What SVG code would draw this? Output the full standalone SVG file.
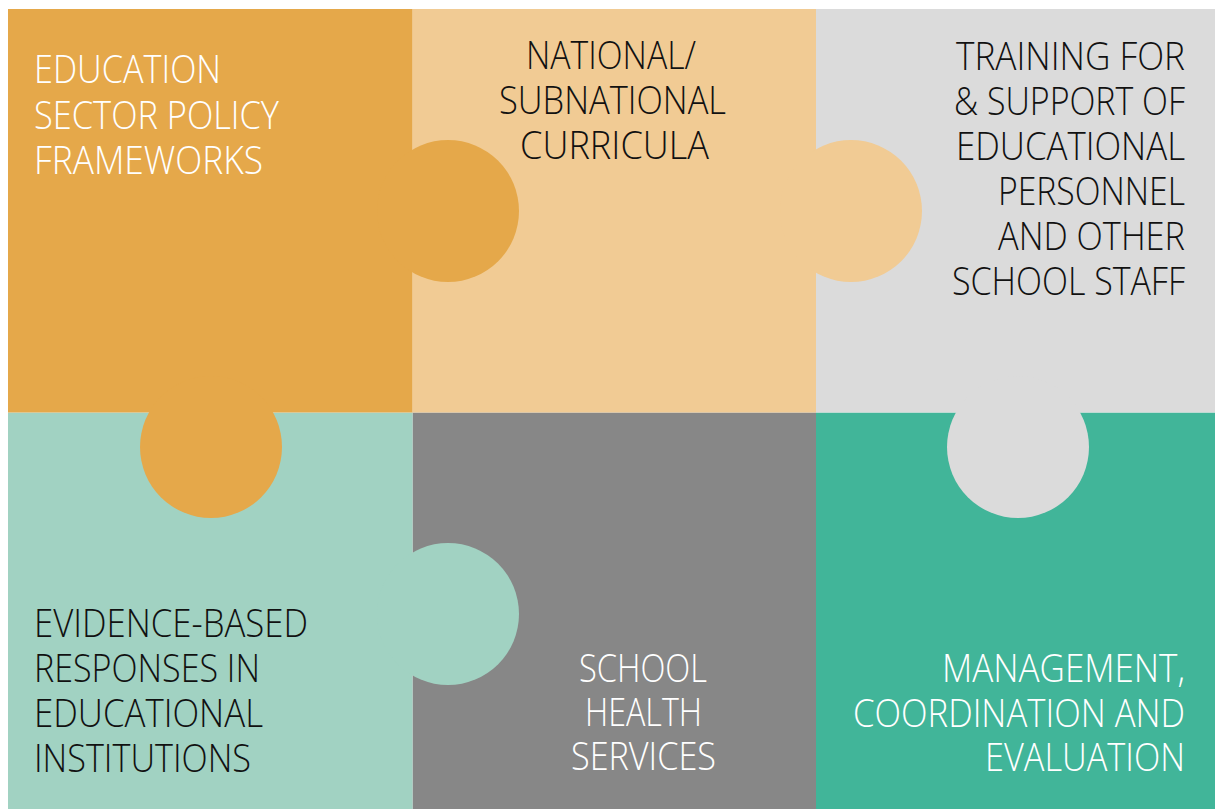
<svg xmlns="http://www.w3.org/2000/svg" width="1215" height="809" viewBox="0 0 1215 809">
  <style>
    .t { font-family: "Open Sans", "Liberation Sans", sans-serif; font-weight: 350; font-size: 39px; }
    .w { fill: #FFFFFF; }
    .k { fill: #111111; }
    .orange { fill: #E5A84A; }
    .peach { fill: #F1CB94; }
    .lgrey { fill: #DBDBDB; }
    .mint { fill: #A1D2C2; }
    .dgrey { fill: #878787; }
    .teal { fill: #41B599; }
  </style>
  <rect width="1215" height="809" fill="#FFFFFF"/>
  <g id="connectors"/>

  <g id="node-management">
    <rect class="teal" x="816" y="412.5" width="399" height="396.5"/>
    <text class="t w" x="942" y="682" textLength="243" lengthAdjust="spacingAndGlyphs">MANAGEMENT,</text>
    <text class="t w" x="853" y="727" textLength="332" lengthAdjust="spacingAndGlyphs">COORDINATION AND</text>
    <text class="t w" x="985" y="771" textLength="200" lengthAdjust="spacingAndGlyphs">EVALUATION</text>
  </g>

  <g id="node-school-health">
    <rect class="dgrey" x="412.5" y="412.5" width="403.5" height="396.5"/>
    <text class="t w" x="579" y="682" textLength="128" lengthAdjust="spacingAndGlyphs">SCHOOL</text>
    <text class="t w" x="585" y="726" textLength="117" lengthAdjust="spacingAndGlyphs">HEALTH</text>
    <text class="t w" x="571" y="770" textLength="145" lengthAdjust="spacingAndGlyphs">SERVICES</text>
  </g>

  <g id="node-training">
    <rect class="lgrey" x="816" y="9" width="399" height="403.5"/>
    <circle class="lgrey" cx="1018" cy="447" r="71"/>
    <text class="t k" x="956" y="70" textLength="229" lengthAdjust="spacingAndGlyphs">TRAINING FOR</text>
    <text class="t k" x="954" y="115" textLength="231" lengthAdjust="spacingAndGlyphs">&amp; SUPPORT OF</text>
    <text class="t k" x="956" y="160" textLength="229" lengthAdjust="spacingAndGlyphs">EDUCATIONAL</text>
    <text class="t k" x="998" y="205" textLength="187" lengthAdjust="spacingAndGlyphs">PERSONNEL</text>
    <text class="t k" x="998" y="250" textLength="187" lengthAdjust="spacingAndGlyphs">AND OTHER</text>
    <text class="t k" x="952" y="295" textLength="233" lengthAdjust="spacingAndGlyphs">SCHOOL STAFF</text>
  </g>

  <g id="node-evidence">
    <rect class="mint" x="8" y="412.5" width="404.5" height="396.5"/>
    <circle class="mint" cx="448" cy="614" r="71"/>
    <text class="t k" x="34" y="637" textLength="274" lengthAdjust="spacingAndGlyphs">EVIDENCE-BASED</text>
    <text class="t k" x="34" y="682" textLength="226" lengthAdjust="spacingAndGlyphs">RESPONSES IN</text>
    <text class="t k" x="34" y="727" textLength="229" lengthAdjust="spacingAndGlyphs">EDUCATIONAL</text>
    <text class="t k" x="34" y="772" textLength="217" lengthAdjust="spacingAndGlyphs">INSTITUTIONS</text>
  </g>

  <g id="node-curricula">
    <rect class="peach" x="412.5" y="9" width="403.5" height="403.5"/>
    <circle class="peach" cx="851" cy="211" r="71"/>
    <text class="t k" x="526" y="69" textLength="170" lengthAdjust="spacingAndGlyphs">NATIONAL/</text>
    <text class="t k" x="499" y="114" textLength="227" lengthAdjust="spacingAndGlyphs">SUBNATIONAL</text>
    <text class="t k" x="520" y="159" textLength="189" lengthAdjust="spacingAndGlyphs">CURRICULA</text>
  </g>

  <g id="node-policy">
    <rect class="orange" x="8" y="9" width="404.5" height="403.5"/>
    <circle class="orange" cx="448" cy="211" r="71"/>
    <circle class="orange" cx="211" cy="447" r="71"/>
    <text class="t w" x="34" y="83" textLength="187" lengthAdjust="spacingAndGlyphs">EDUCATION</text>
    <text class="t w" x="34" y="129" textLength="245" lengthAdjust="spacingAndGlyphs">SECTOR POLICY</text>
    <text class="t w" x="34" y="174" textLength="229" lengthAdjust="spacingAndGlyphs">FRAMEWORKS</text>
  </g>
</svg>
